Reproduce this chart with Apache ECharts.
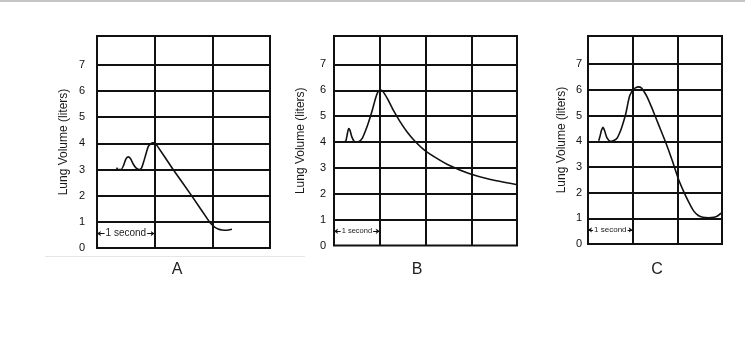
<!DOCTYPE html>
<html>
<head>
<meta charset="utf-8">
<script src="https://cdn.jsdelivr.net/npm/echarts@6/dist/echarts.min.js"></script>
<style>
  html, body { margin: 0; padding: 0; background: #fff; }
  #chart { width: 756px; height: 344px; }
</style>
</head>
<body>
<div id="chart"></div>
<script>
// Spirometer traces: time (seconds) vs lung volume (liters)
const panelNames = ['A', 'B', 'C'];
const yTicks = [0, 1, 2, 3, 4, 5, 6, 7];
const gridValues = [1, 2, 3, 4, 5, 6, 7];
const secondsA = 3, secondsB = 4, secondsC = 3;

const timeA = [0.34, 0.36, 0.42, 0.46, 0.50, 0.54, 0.58, 0.63, 0.68, 0.73, 0.77, 0.81, 0.85, 0.89, 0.93, 0.97, 1.00, 1.03, 1.32, 1.64, 1.95, 1.99, 2.04, 2.10, 2.17, 2.25, 2.34];
const volA  = [3.07, 3.00, 3.00, 3.15, 3.40, 3.48, 3.42, 3.20, 3.05, 3.00, 3.05, 3.30, 3.60, 3.88, 3.98, 4.02, 4.02, 3.95, 3.00, 2.00, 1.00, 0.90, 0.80, 0.73, 0.69, 0.68, 0.72];

const timeB = [0.22, 0.26, 0.29, 0.32, 0.35, 0.39, 0.44, 0.50, 0.55, 0.62, 0.68, 0.75, 0.84, 0.91, 0.96, 1.00, 1.04, 1.08, 1.18, 1.29, 1.44, 1.59, 1.77, 1.97, 2.24, 2.54, 2.95, 3.42, 3.98];
const volB  = [4.00, 4.05, 4.30, 4.52, 4.45, 4.20, 4.03, 4.00, 4.02, 4.15, 4.40, 4.74, 5.25, 5.70, 5.94, 6.00, 6.00, 5.93, 5.64, 5.25, 4.80, 4.41, 4.03, 3.70, 3.38, 3.08, 2.78, 2.55, 2.36];

const timeC = [0.24, 0.27, 0.30, 0.335, 0.37, 0.42, 0.47, 0.52, 0.58, 0.65, 0.71, 0.76, 0.81, 0.85, 0.89, 0.93, 0.98, 1.02, 1.06, 1.13, 1.20, 1.26, 1.32, 1.43, 1.58, 1.73, 1.88, 2.03, 2.14, 2.25, 2.36, 2.47, 2.57, 2.70, 2.82, 2.90, 2.98];
const volC  = [4.02, 4.20, 4.42, 4.54, 4.42, 4.15, 4.03, 4.00, 4.03, 4.12, 4.33, 4.57, 4.85, 5.10, 5.45, 5.75, 5.93, 6.02, 6.08, 6.12, 6.07, 5.92, 5.74, 5.30, 4.65, 4.00, 3.28, 2.50, 2.05, 1.65, 1.30, 1.11, 1.04, 1.02, 1.04, 1.09, 1.20];

const scaleMarker = { from: 0, to: 1, level: 0.55, text: '1 second' };
const yTitle = 'Lung Volume (liters)';

const FONT = '"Liberation Sans", Arial, sans-serif';
const INK = '#111';

const zip = (xs, ys) => xs.map((x, i) => [x, ys[i]]);

const panels = [
  { grid: { left: 97, top: 36, width: 173, height: 212 }, xMax: secondsA, data: zip(timeA, volA), nameGap: 27, labelMargin: 12, letterX: 177, markerFont: 10 },
  { grid: { left: 334, top: 36, width: 183, height: 209.5 }, xMax: secondsB, data: zip(timeB, volB), nameGap: 27, labelMargin: 8, letterX: 417, markerFont: 7.5 },
  { grid: { left: 588, top: 36, width: 134, height: 208 }, xMax: secondsC, data: zip(timeC, volC), nameGap: 20, labelMargin: 6, letterX: 657, markerFont: 8 }
];

const option = {
  backgroundColor: '#fff',
  animation: false,
  grid: panels.map(p => Object.assign({ show: true, borderColor: INK, borderWidth: 2, backgroundColor: 'transparent' }, p.grid)),
  xAxis: panels.map((p, i) => ({
    type: 'value', gridIndex: i, min: 0, max: p.xMax, interval: 1,
    axisLine: { show: false }, axisTick: { show: false }, axisLabel: { show: false },
    splitLine: { show: true, lineStyle: { color: INK, width: 2 } }
  })),
  yAxis: panels.map((p, i) => ({
    type: 'value', gridIndex: i, min: 0, max: 8.1, interval: 1,
    name: yTitle, nameLocation: 'middle', nameRotate: 90, nameGap: p.nameGap,
    nameTextStyle: { fontFamily: FONT, fontSize: 12, color: '#1a1a1a' },
    axisLine: { show: false }, axisTick: { show: false }, splitLine: { show: false },
    axisLabel: {
      margin: p.labelMargin, fontFamily: FONT, fontSize: 11, color: '#111',
      formatter: v => (yTicks.indexOf(v) >= 0 ? String(v) : '')
    }
  })),
  series: panels.map((p, i) => ({
    type: 'line', xAxisIndex: i, yAxisIndex: i,
    data: p.data, showSymbol: false, smooth: 0.2,
    lineStyle: { color: INK, width: 1.6 },
    markLine: {
      silent: true, animation: false,
      symbol: 'none',
      label: { show: false },
      data: gridValues.map(v => ({
        yAxis: v, symbol: 'none',
        lineStyle: { color: INK, width: 2, type: 'solid' }
      })).concat([[
        { coord: [scaleMarker.from, scaleMarker.level], symbol: 'arrow', symbolSize: 4,
          lineStyle: { color: INK, width: 1, type: 'solid' } },
        { coord: [scaleMarker.to, scaleMarker.level], symbol: 'arrow', symbolSize: 4 }
      ]])
    },
    markPoint: {
      silent: true, animation: false,
      symbol: 'rect', symbolSize: 0,
      data: [{
        coord: [(scaleMarker.from + scaleMarker.to) / 2, scaleMarker.level],
        label: {
          show: true, position: 'inside', formatter: scaleMarker.text,
          fontFamily: FONT, fontSize: p.markerFont, color: '#222', backgroundColor: '#fff', padding: [1, 1]
        }
      }]
    }
  })),
  graphic: [
    { type: 'line', shape: { x1: 0, y1: 1, x2: 745, y2: 1 }, style: { stroke: '#c4c4c4', lineWidth: 2 }, silent: true },
    { type: 'line', shape: { x1: 45, y1: 256.5, x2: 305, y2: 256.5 }, style: { stroke: '#e6e6e6', lineWidth: 1 }, silent: true }
  ].concat(panels.map((p, i) => ({
    type: 'text', x: p.letterX, y: 270,
    style: { text: panelNames[i], font: '16px ' + FONT, fill: '#222', textAlign: 'center', textVerticalAlign: 'middle' }
  })))
};

const chart = echarts.init(document.getElementById('chart'), null, { renderer: 'canvas' });
chart.setOption(option);
</script>
</body>
</html>
